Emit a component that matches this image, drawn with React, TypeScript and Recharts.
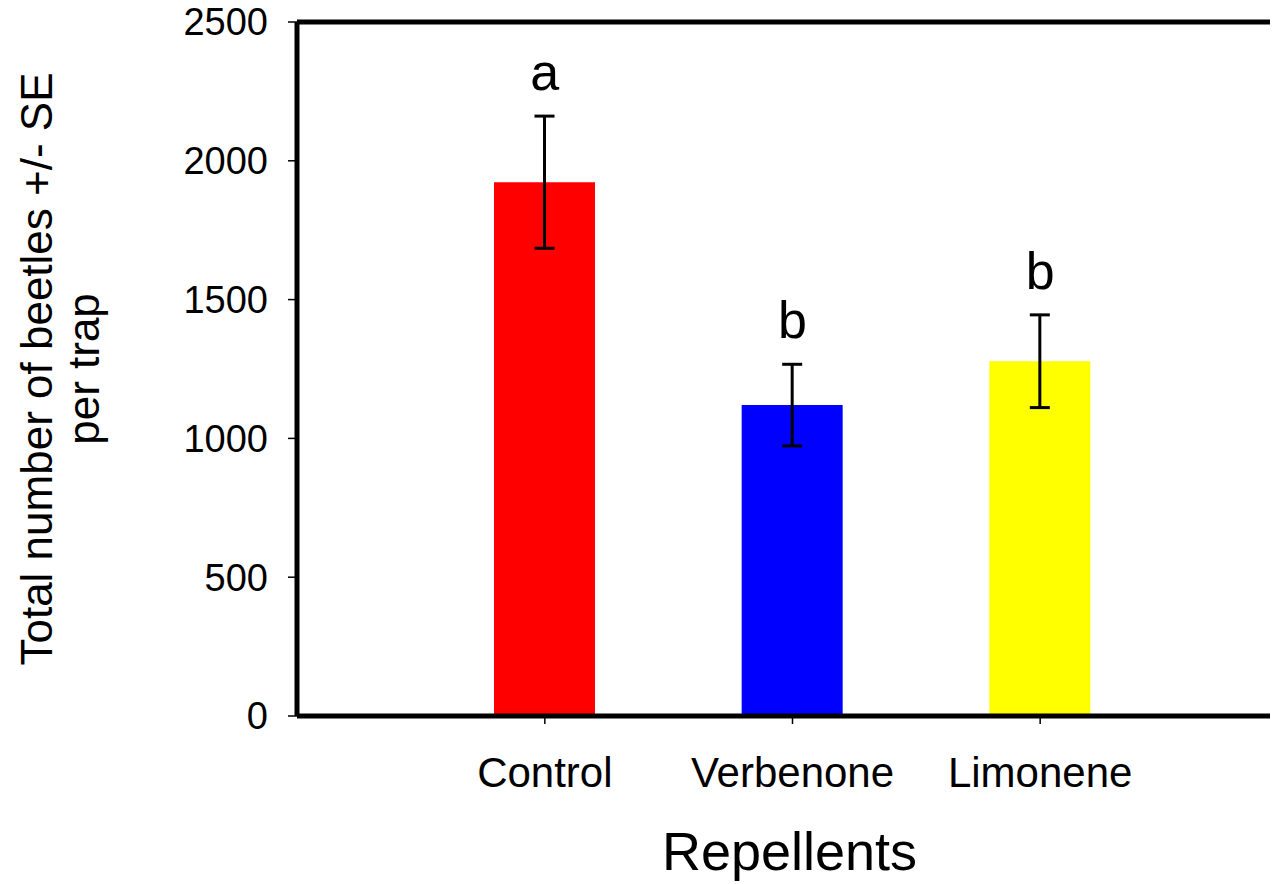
import { ComposedChart, Bar, Cell, Line, XAxis, YAxis, ErrorBar, LabelList, ReferenceLine } from "recharts"

const categories = ["Control", "Verbenone", "Limonene"]
const means = [1923, 1120, 1278]
const se = [238, 147, 167]
const letters = ["a", "b", "b"]
const yTicks = [0, 500, 1000, 1500, 2000, 2500]
const COLORS = ["#FF0000", "#0000FF", "#FFFF00"]

const FONT = "'Liberation Sans', Arial, Helvetica, sans-serif"

const data = categories.map((name, i) => ({
  name,
  mean: means[i],
  se: se[i],
  top: means[i] + se[i],
  letter: letters[i],
}))

// two-line rotated y-axis title
function YTitle(props: any) {
  const vb = props.viewBox
  const cy = vb.y + vb.height / 2
  return (
    <text
      transform={`rotate(-90, 8, ${cy})`}
      x={8}
      y={cy}
      textAnchor="middle"
      fontSize={44}
      fontFamily={FONT}
      fill="#000"
    >
      <tspan x={8} dy={44}>Total number of beetles +/- SE</tspan>
      <tspan x={8} dy={47}>per trap</tspan>
    </text>
  )
}

export default function App() {
  return (
    <div style={{ margin: "-8px 0 0 -8px" }}>
      <ComposedChart
        width={1278}
        height={884}
        data={data}
        margin={{ top: 22, right: 0, left: 0, bottom: 0 }}
        style={{ fontFamily: FONT }}
      >
        <XAxis
          dataKey="name"
          height={168}
          padding={{ left: 124, right: 114 }}
          axisLine={{ stroke: "#000", strokeWidth: 5 }}
          tickLine={{ stroke: "#000", strokeWidth: 1.5 }}
          tickSize={8}
          tickMargin={33}
          tick={{ fill: "#000", fontSize: 42, fontFamily: FONT }}
          label={{ value: "Repellents", position: "insideBottom", offset: 14, dx: 2, fontSize: 54, fill: "#000", fontFamily: FONT }}
        />
        <YAxis
          width={297}
          domain={[0, 2500]}
          ticks={yTicks}
          interval={0}
          axisLine={{ stroke: "#000", strokeWidth: 5 }}
          tickLine={{ stroke: "#000", strokeWidth: 1.5 }}
          tickSize={9}
          tickMargin={20}
          tick={{ fill: "#000", fontSize: 38, fontFamily: FONT }}
          label={{ content: YTitle }}
        />
        <ReferenceLine y={2500} stroke="#000" strokeWidth={5} />
        <Bar dataKey="mean" barSize={101} isAnimationActive={false}>
          {data.map((d, i) => (
            <Cell key={`cell-${i}`} fill={COLORS[i % COLORS.length]} />
          ))}
          <ErrorBar dataKey="se" direction="y" width={10} stroke="#000" strokeWidth={3} />
        </Bar>
        <Line dataKey="top" stroke="none" dot={false} activeDot={false} isAnimationActive={false}>
          <LabelList dataKey="letter" position="top" offset={26} fontSize={52} fill="#000" fontFamily={FONT} />
        </Line>
      </ComposedChart>
    </div>
  )
}
